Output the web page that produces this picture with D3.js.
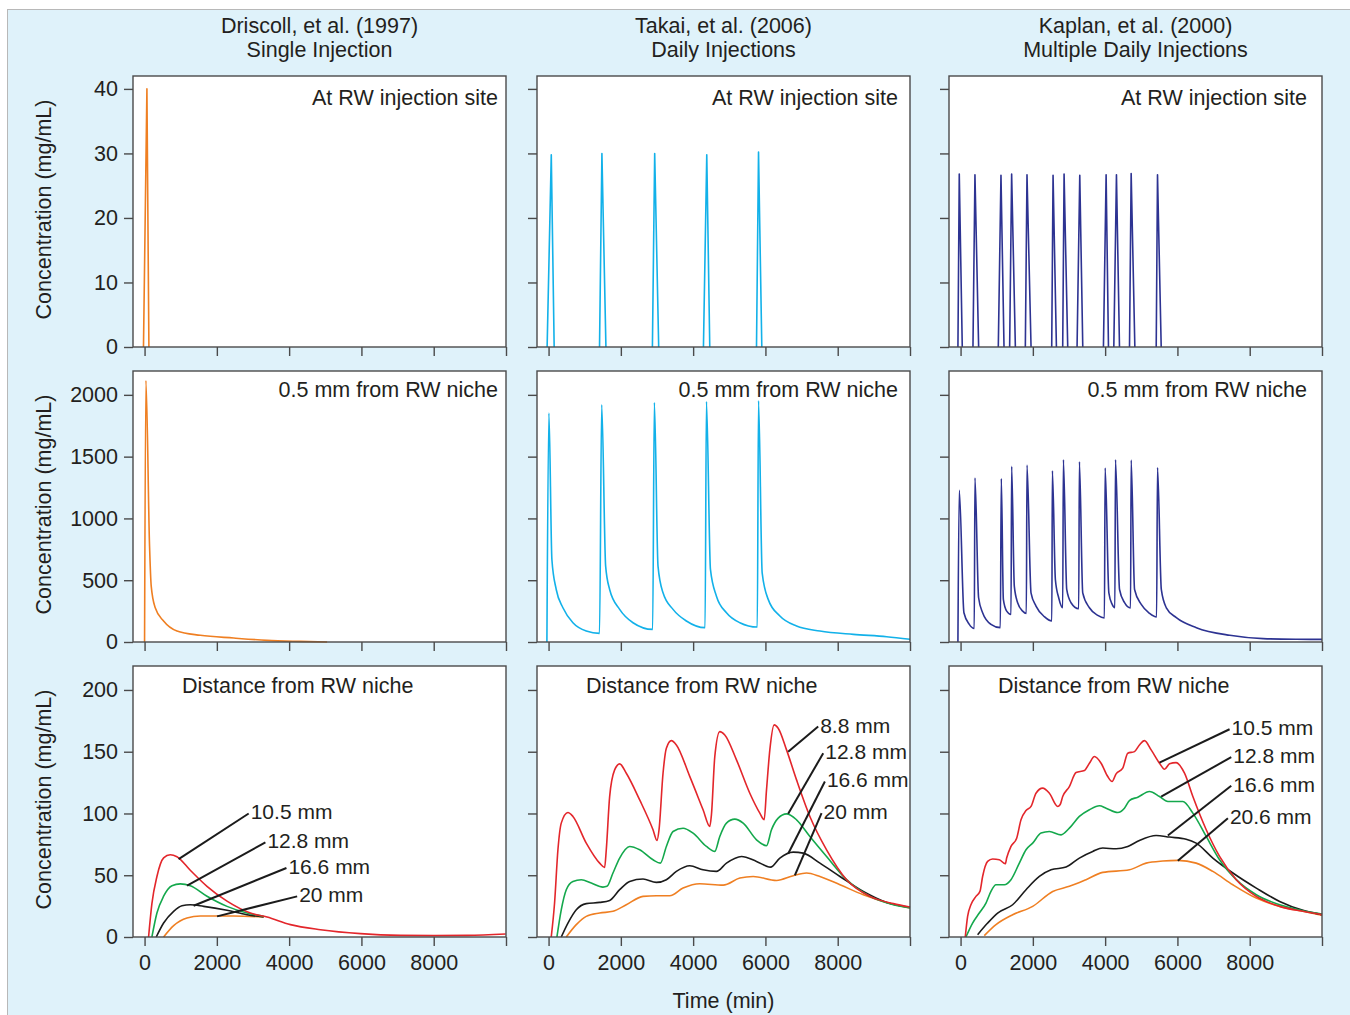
<!DOCTYPE html>
<html><head><meta charset="utf-8">
<script src="https://cdn.jsdelivr.net/npm/d3@7"></script>
<style>
body { margin: 0; background: #fff; }
text { font-family: "Liberation Sans", Arial, Helvetica, sans-serif; fill: #231f20; }
</style>
</head><body>
<svg width="1350" height="1015"></svg>
<script>

// ---- data (time in min, concentration in mg/mL) ----
var studies = ["Driscoll, et al. (1997)", "Takai, et al. (2006)", "Kaplan, et al. (2000)"];
var regimens = ["Single Injection", "Daily Injections", "Multiple Daily Injections"];
var rowNotes = ["At RW injection site", "0.5 mm from RW niche", "Distance from RW niche"];
var timeTicks = [0, 2000, 4000, 6000, 8000, 10000];
var concTicks = [[0, 10, 20, 30, 40], [0, 500, 1000, 1500, 2000], [0, 50, 100, 150, 200]];

// injection site: one short spike per injection
var siteDriscoll = [[[-30,0],[65,40],[120,0]]];
var siteTakai = [[[-40,0],[75,29.8],[155,0]], [[1410,0],[1476,30],[1587,0]], [[2873,0],[2936,30],[3047,0]],
  [[4285,0],[4377,29.8],[4460,0]], [[5753,0],[5809,30.2],[5900,0]]];
var siteKaplan = [[[-73,0],[-36,26.8],[47,0]], [[343,0],[398,26.7],[500,0]], [[1044,0],[1118,26.6],[1202,0]],
  [[1358,0],[1413,26.8],[1516,0]], [[1792,0],[1838,26.7],[1950,0]], [[2522,0],[2559,26.6],[2652,0]],
  [[2826,0],[2864,26.8],[2965,0]], [[3223,0],[3298,26.6],[3381,0]], [[3953,0],[4027,26.7],[4092,0]],
  [[4240,0],[4313,26.7],[4397,0]], [[4674,0],[4720,26.9],[4822,0]], [[5413,0],[5449,26.7],[5551,0]]];

var nicheDriscoll = [[0,0],[37,2116],[138,775],[184,452],[295,277],[526,170],[896,89],[1543,54],
  [2466,32],[3389,13.5],[4312,5],[5050,0]];
var nicheTakai = [[-46,0],[9,1852],[92,668],[212,425],[397,277],[674,156],[1043,89],[1410,70],
  [1470,1919],[1579,614],[1690,425],[1967,264],[2336,156],[2880,102],
  [2927,1938],[3028,614],[3167,398],[3444,264],[3813,170],[4330,116],
  [4368,1946],[4479,587],[4645,371],[4922,237],[5292,156],[5775,121],
  [5809,1952],[5910,560],[6077,345],[6400,210],[6861,129],[7508,89],[8432,62],[9355,43],[10000,22]];
var nicheKaplan = [[-73,0],[-36,1228],[93,237],[241,143],[379,110],
  [398,1327],[499,358],[610,237],[841,143],[1100,116],
  [1127,1322],[1184,345],[1276,250],[1396,223],
  [1413,1421],[1487,452],[1579,318],[1718,250],[1820,231],
  [1838,1432],[1949,398],[2087,291],[2318,205],[2525,170],
  [2540,1386],[2623,506],[2715,358],[2826,277],
  [2845,1475],[2937,425],[3056,318],[3269,269],
  [3288,1459],[3380,398],[3565,277],[3796,215],[3980,194],
  [4000,1408],[4103,398],[4195,304],[4269,277],
  [4286,1475],[4398,425],[4537,318],[4703,275],
  [4720,1472],[4814,425],[4999,304],[5230,231],[5424,202],
  [5449,1411],[5554,425],[5693,277],[5970,197],[6524,116],[7447,54],[8370,27],[9294,22],[10000,21]];

var d1_105 = [[111,0],[203,27],[342,49],[527,64],[711,66.6],[896,65],[1265,54],[1727,41],[2281,29],
  [2928,19.4],[3389,16.2],[4036,10],[4867,5.9],[5975,2.7],[7083,1.3],[8006,1.1],[8930,1.3],[9992,2.4]];
var d1_128 = [[203,0],[342,19.4],[527,33],[758,41.5],[988,43],[1265,41.5],[1727,33],[2281,24.8],[2835,19.4],[3296,16.7]];
var d1_166 = [[323,0],[527,11.3],[804,20.8],[1034,25.3],[1265,26.1],[1635,24.8],[2281,21.6],[2835,18],[3296,16.2]];
var d1_20 = [[527,0],[804,9.2],[1173,15.4],[1543,17],[2466,17],[3296,16.2]];

var d2_88 = [[74,0],[166,27.5],[259,70.6],[351,92.2],[536,100.8],[674,97.6],[1043,76],[1413,59.8],[1551,56.3],
  [1597,70.6],[1690,113.7],[1828,135.3],[1967,140.2],[2151,132.6],[2521,111],[2890,86.8],[3000,78.2],
  [3056,86.8],[3167,132.6],[3259,152.8],[3398,159],[3536,155.5],[3906,130],[4275,103],[4460,89.5],
  [4506,98.9],[4599,146],[4737,166.3],[4876,163.6],[5199,143.4],[5568,116.4],[5845,100.3],[5965,94.9],
  [6030,119.1],[6122,151.5],[6242,171.7],[6353,169],[6584,151.5],[6861,127.2],[7230,97.6],[7692,70.6],
  [8246,46.4],[8892,32.9],[9539,27],[10000,24.3]];
var d2_128 = [[231,0],[351,22],[490,38.3],[674,45],[905,46.4],[1182,43.7],[1505,40.4],[1616,41],[1782,51.8],
  [1967,63.9],[2244,73.3],[2521,70.6],[2890,62.5],[3093,59.8],[3259,73.3],[3444,85.4],[3721,88.1],[3998,84.1],
  [4368,73.3],[4599,69.3],[4737,81.4],[4922,92.2],[5153,95.4],[5384,92.2],[5753,78.7],[6030,73.9],[6168,86.8],
  [6353,96.2],[6584,99.7],[6861,94.9],[7230,81.4],[7692,65.2],[8246,46.4],[8892,32.9],[9539,26.1],[10000,23.5]];
var d2_166 = [[351,0],[536,11.3],[767,22.1],[1043,27],[1413,28],[1690,29.6],[1967,38.3],[2244,45],[2613,46.9],
  [2983,44.2],[3259,46.4],[3536,53.1],[3906,57.7],[4275,54.4],[4645,53.1],[4922,59.8],[5338,65.2],[5753,61.2],
  [6141,56.6],[6399,63.9],[6769,68.7],[7046,67.9],[7508,59.8],[8062,49],[8708,36.9],[9355,28],[10000,24]];
var d2_20 = [[490,0],[767,10],[1043,16.7],[1413,19.4],[1782,20.8],[2151,26.1],[2613,32.9],[2983,33.4],[3352,33.4],
  [3721,39.6],[4183,43.1],[4829,42],[5292,47.7],[5661,49],[6307,45.8],[6769,49.6],[7138,51.8],[7508,49],
  [8062,42.3],[8708,34.2],[9355,28],[10000,23.5]];

var d3_105 = [[130,0],[195,16.7],[287,26.1],[425,32.9],[536,36.9],[610,49],[749,61.2],[887,63.1],[1072,62.5],
  [1238,59.3],[1275,63.9],[1395,73.3],[1552,80],[1672,94.9],[1811,102.4],[1949,105.7],[2087,116.4],[2272,120.5],
  [2457,116.4],[2688,105.7],[2752,107],[2826,113.7],[3010,121.8],[3195,133.2],[3426,134.8],[3565,140.7],
  [3703,146.1],[3888,140.7],[4072,129.9],[4192,125.9],[4303,132.1],[4487,136.7],[4626,148.8],[4811,150.1],
  [4949,155.5],[5088,159],[5273,151.5],[5504,140.7],[5643,135.8],[5781,140.2],[5965,141.2],[6196,132.6],
  [6427,113.7],[6797,86.8],[7166,65.2],[7628,46.4],[8182,32.9],[8828,24.8],[9474,20.8],[10000,18.1]];
var d3_128 = [[148,0],[333,11.3],[518,19.4],[703,27.5],[841,36.9],[980,42.3],[1210,42.3],[1395,46.4],[1626,59.8],
  [1811,70.6],[1995,76],[2226,84.1],[2457,85.4],[2780,82.7],[3010,88.1],[3287,97.6],[3565,103],[3842,106.2],
  [4026,104.3],[4349,100.8],[4534,104.3],[4672,110.5],[4903,113.2],[5227,117.8],[5504,113.7],[5735,109.7],
  [6150,109.7],[6427,100.3],[6797,81.4],[7166,62.5],[7628,46.4],[8182,34.2],[8828,26.1],[9474,21.3],[10000,18.6]];
var d3_166 = [[472,1.9],[749,11.3],[1026,19.4],[1441,26.1],[1811,38.3],[2180,49],[2503,54.4],[2918,56.6],[3287,63.9],
  [3657,69.3],[3934,72],[4303,71.4],[4626,73.3],[4949,78.2],[5411,82.2],[5781,80.9],[6242,79.2],[6519,76],
  [6980,63.9],[7534,51.8],[8182,39.6],[8828,28.8],[9474,21.6],[10000,18.1]];
var d3_206 = [[656,1.1],[980,10],[1441,18],[1995,24.8],[2549,36.9],[3010,41],[3472,46.4],[3934,52.3],[4672,54.4],
  [5134,59.8],[5596,61.5],[6011,62],[6519,59.8],[6980,53.1],[7534,42.3],[8182,31.5],[8828,24.8],[9474,20.8],[10000,17.5]];

// leader lines: label, point on curve [t, c], outer end [t, c]
var leaders1 = [["10.5 mm",[942,63],[2881,100]],["12.8 mm",[1175,41.5],[3343,76.6]],
  ["16.6 mm",[1357,25.3],[3925,55.9]],["20 mm",[2006,16.7],[4222,32.9]]];
var leaders2 = [["8.8 mm",[6629,150],[7460,170.4]],["12.8 mm",[6629,99.7],[7599,148.8]],
  ["16.6 mm",[6629,67.4],[7645,125.9]],["20 mm",[6814,49.9],[7553,100.3]]];
var leaders3 = [["10.5 mm",[5504,141.2],[7443,168.2]],["12.8 mm",[5550,113.7],[7489,145.6]],
  ["16.6 mm",[5735,82.2],[7489,122.4]],["20.6 mm",[6011,61.7],[7397,96.2]]];

// ---- layout ----
var orange = "#ef7f22", cyan = "#12b1e9", navy = "#2d3392", red = "#e3262b", green = "#14a84c", black = "#1b1b1b";
var colLeft = [133, 537, 949], plotW = 373;
var rowTop = [76, 371, 666], plotH = 271;
var yMax = [42, 2193, 219.4];
var noteInset = [8, 12, 15];
var fontSize = 21.5;

var panels = [
  [ siteDriscoll.map(function(s) { return [s, orange]; }),
    siteTakai.map(function(s) { return [s, cyan]; }),
    siteKaplan.map(function(s) { return [s, navy]; }) ],
  [ [[nicheDriscoll, orange]], [[nicheTakai, cyan]], [[nicheKaplan, navy]] ],
  [ [[d1_20, orange],[d1_166, black],[d1_128, green],[d1_105, red]],
    [[d2_20, orange],[d2_166, black],[d2_128, green],[d2_88, red]],
    [[d3_206, orange],[d3_166, black],[d3_128, green],[d3_105, red]] ]
];
var leaders = [leaders1, leaders2, leaders3];

var svg = d3.select("svg");

svg.append("rect")
    .attr("x", 7.5).attr("y", 9.5)
    .attr("width", 1360).attr("height", 1020)
    .attr("fill", "#dff2fa")
    .attr("stroke", "#b8b8b8");

var x = d3.scaleLinear().domain([-320, 10000]).range([0, plotW]);

studies.forEach(function(s, c) {
  var cx = colLeft[c] + plotW / 2;
  svg.append("text").attr("x", cx).attr("y", 33).attr("text-anchor", "middle")
      .style("font-size", fontSize + "px").text(s);
  svg.append("text").attr("x", cx).attr("y", 57).attr("text-anchor", "middle")
      .style("font-size", fontSize + "px").text(regimens[c]);
});

rowTop.forEach(function(top, r) {
  var y = d3.scaleLinear().domain([0, yMax[r]]).range([plotH, 0]);

  svg.append("text")
      .attr("transform", "translate(43," + (top + plotH / 2 - 2) + ") rotate(-90)")
      .attr("text-anchor", "middle")
      .attr("dy", "0.35em")
      .style("font-size", fontSize + "px")
      .text("Concentration (mg/mL)");

  colLeft.forEach(function(left, c) {
    var g = svg.append("g").attr("transform", "translate(" + left + "," + top + ")");

    g.append("rect").attr("width", plotW).attr("height", plotH).attr("fill", "#fff");

    var yAxis = d3.axisLeft(y).tickValues(concTicks[r]).tickSize(9).tickPadding(6).tickSizeOuter(0)
        .tickFormat(c > 0 ? "" : d3.format("d"));
    var ya = g.append("g").call(yAxis);

    var xAxis = d3.axisBottom(x).tickValues(timeTicks).tickSize(9).tickPadding(9).tickSizeOuter(0)
        .tickFormat(function(d) { return r == 2 && d < 10000 ? d : ""; });
    var xa = g.append("g").attr("transform", "translate(0," + plotH + ")").call(xAxis);

    [ya, xa].forEach(function(a) {
      a.select(".domain").remove();
      a.selectAll("line").attr("stroke", "#4a4a4a").attr("stroke-width", 1.4);
      a.selectAll("text").style("font-size", fontSize + "px").attr("fill", "#231f20");
    });

    var line = d3.line()
        .x(function(d) { return x(d[0]); })
        .y(function(d) { return y(d[1]); })
        .curve(r == 0 ? d3.curveLinear : d3.curveMonotoneX);

    panels[r][c].forEach(function(s) {
      g.append("path")
          .attr("d", line(s[0]))
          .attr("fill", "none")
          .attr("stroke", s[1])
          .attr("stroke-width", 1.6)
          .attr("stroke-linejoin", "round");
    });

    if (r == 2) {
      leaders[c].forEach(function(l) {
        g.append("line")
            .attr("x1", x(l[1][0])).attr("y1", y(l[1][1]))
            .attr("x2", x(l[2][0])).attr("y2", y(l[2][1]))
            .attr("stroke", "#1b1b1b").attr("stroke-width", 2);
        g.append("text")
            .attr("x", x(l[2][0]) + 2).attr("y", y(l[2][1]) + 6)
            .style("font-size", "21px")
            .text(l[0]);
      });
      g.append("text").attr("x", 49).attr("y", 27)
          .style("font-size", fontSize + "px").text(rowNotes[r]);
    } else {
      g.append("text").attr("x", plotW - noteInset[c]).attr("y", r == 0 ? 29 : 26)
          .attr("text-anchor", "end")
          .style("font-size", fontSize + "px").text(rowNotes[r]);
    }

    g.append("rect").attr("width", plotW).attr("height", plotH)
        .attr("fill", "none").attr("stroke", "#4a4a4a").attr("stroke-width", 1.4);
  });
});

svg.append("text")
    .attr("x", colLeft[1] + plotW / 2).attr("y", 1008)
    .attr("text-anchor", "middle")
    .style("font-size", fontSize + "px")
    .text("Time (min)");

</script>
</body></html>
